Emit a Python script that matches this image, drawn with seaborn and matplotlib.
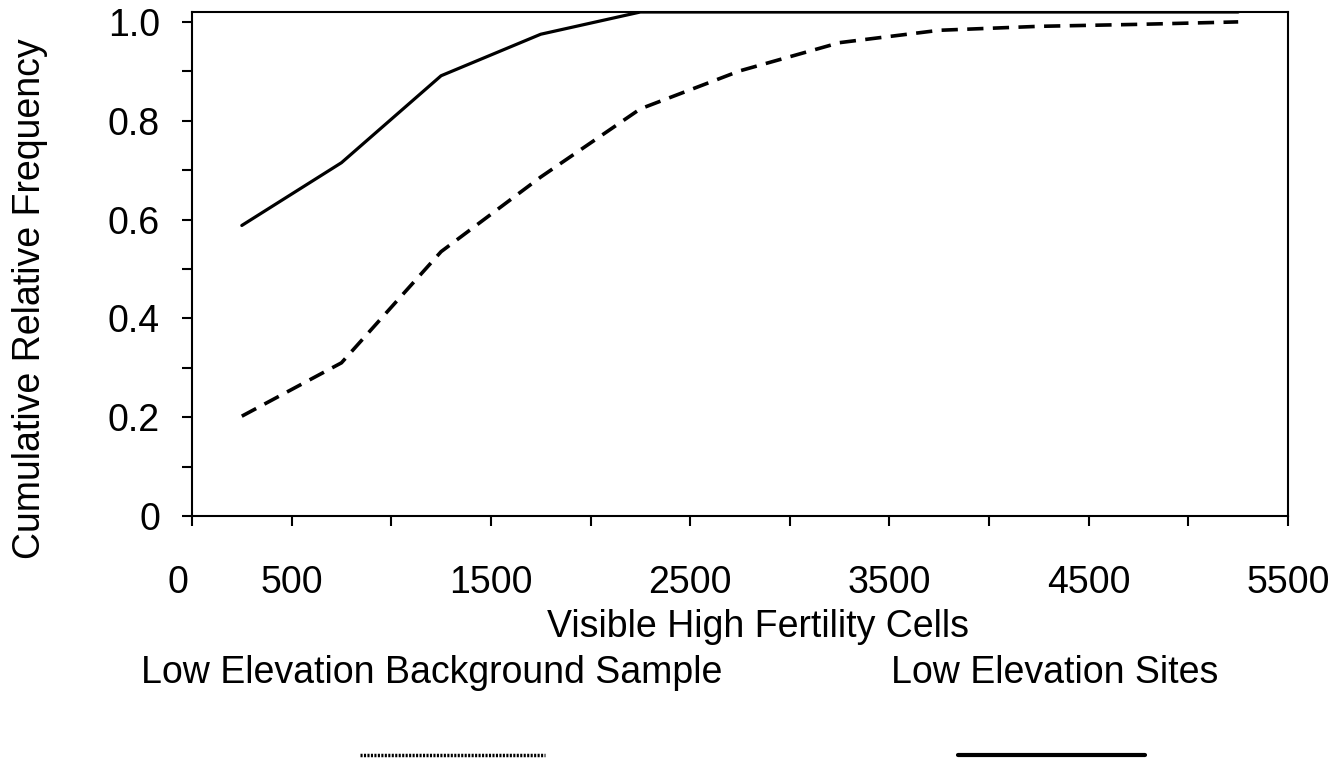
import pandas as pd
import seaborn as sns
import matplotlib.pyplot as plt
import matplotlib.transforms as mtransforms
from matplotlib.lines import Line2D

# bin centres of visible high fertility cells
cells = [250, 750, 1250, 1750, 2250, 2750, 3250, 3750, 4250, 4750, 5250]
# cumulative relative frequency
sites = [0.588, 0.715, 0.891, 0.975, 1.02, 1.02, 1.02, 1.02, 1.02, 1.02, 1.02]
background = [0.202, 0.31, 0.535, 0.686, 0.824, 0.901, 0.958, 0.983, 0.991, 0.995, 1.0]

x_ticks = [0, 500, 1000, 1500, 2000, 2500, 3000, 3500, 4000, 4500, 5000, 5500]
x_labels = ['0', '500', '', '1500', '', '2500', '', '3500', '', '4500', '', '5500']
y_ticks = [0, 0.1, 0.2, 0.3, 0.4, 0.5, 0.6, 0.7, 0.8, 0.9, 1.0]
y_labels = ['0', '', '0.2', '', '0.4', '', '0.6', '', '0.8', '', '1.0']

sns.set_style('ticks')
plt.rcParams['font.family'] = ['Liberation Sans', 'DejaVu Sans']
plt.rcParams['text.color'] = 'black'
plt.rcParams['axes.labelcolor'] = 'black'

df = pd.DataFrame({'cells': cells, 'sites': sites, 'background': background})

fig = plt.figure(figsize=(13.35, 7.63), dpi=100)
ax = fig.add_axes([192 / 1335, 1 - 516 / 763, (1288 - 192) / 1335, (516 - 12) / 763])

sns.lineplot(data=df, x='cells', y='sites', ax=ax, color='black', lw=2.3)
sns.lineplot(data=df, x='cells', y='background', ax=ax, color='black', lw=2.6,
             dashes=False)
ax.lines[-1].set_dashes([4.5, 2.6])

ax.set_xlim(0, 5500)
ax.set_ylim(0, 1.02)
ax.set_xticks(x_ticks)
ax.set_xticklabels(x_labels)
ax.set_yticks(y_ticks)
ax.set_yticklabels(y_labels)
ax.tick_params(axis='x', length=7, width=1.5, pad=28, labelsize=27, colors='black')
ax.tick_params(axis='y', length=7, width=1.5, pad=16, labelsize=27, colors='black')
for s in ax.spines.values():
    s.set_linewidth(1.5)
    s.set_color('black')

# the "0" label sits a little left of its tick in the original
zero = ax.get_xticklabels()[0]
zero.set_transform(zero.get_transform() +
                   mtransforms.ScaledTranslation(-14 / 100, 0, fig.dpi_scale_trans))

ax.set_xlabel('Visible High Fertility Cells', fontsize=27)
ax.set_ylabel('Cumulative Relative Frequency', fontsize=27)
ax.xaxis.set_label_coords((758 - 192) / (1288 - 192), -(627 - 516) / (516 - 12))
ax.yaxis.set_label_coords(-(192 - 30) / (1288 - 192), (516 - 299) / (516 - 12))
ax.xaxis.label.set_va('center')
ax.yaxis.label.set_va('center')

# legend below the chart: name on top, line sample underneath
fig.text(432 / 1335, 1 - 673 / 763, 'Low Elevation Background Sample', fontsize=27,
         ha='center', va='center')
fig.text(1055 / 1335, 1 - 673 / 763, 'Low Elevation Sites', fontsize=27,
         ha='center', va='center')
fig.add_artist(Line2D([360 / 1335, 545 / 1335], [1 - 755 / 763] * 2, color='black',
                      lw=2.5, ls=(0, (0.6, 0.4))))
fig.add_artist(Line2D([958 / 1335, 1145 / 1335], [1 - 755 / 763] * 2, color='black',
                      lw=3))

fig.savefig('out.png', dpi=100)
